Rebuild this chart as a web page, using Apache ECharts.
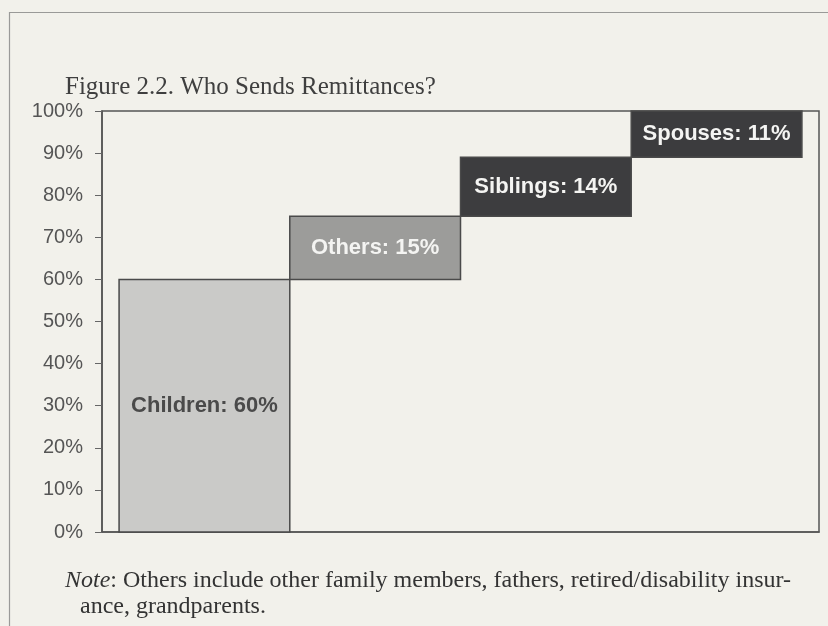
<!DOCTYPE html>
<html>
<head>
<meta charset="utf-8">
<script src="https://cdn.jsdelivr.net/npm/echarts@6/dist/echarts.min.js"></script>
<style>
html,body{margin:0;padding:0;background:#f2f1eb;}
#chart{width:828px;height:626px;}
</style>
</head>
<body>
<div id="chart"></div>
<script>
// Data
var categories = ['Children', 'Others', 'Siblings', 'Spouses'];
var shares = [60, 15, 14, 11];          // percent sending remittances
var bases = [0, 60, 75, 89];            // waterfall starting level (percent)
var yTicks = ['0%','10%','20%','30%','40%','50%','60%','70%','80%','90%','100%'];

var fills = ['#cacac8', '#9c9c9a', '#3d3d3f', '#3c3c3e'];
var labelColors = ['#4a4a4a', '#f4f4f2', '#f4f4f2', '#f4f4f2'];

var chart = echarts.init(document.getElementById('chart'), null, {renderer: 'canvas'});

var data = categories.map(function (c, i) { return [i, bases[i], shares[i]]; });

chart.setOption({
  backgroundColor: '#f2f1eb',
  animation: false,
  title: [
    {
      text: 'Figure 2.2. Who Sends Remittances?',
      left: 60, top: 70,
      textStyle: {fontFamily: 'Liberation Serif', fontSize: 25, fontWeight: 'normal', color: '#3f3f3f'}
    },
    {
      text: '{i|Note}: Others include other family members, fathers, retired/disability insur-\n{p|ance, grandparents.}',
      left: 60, top: 563,
      textStyle: {
        fontFamily: 'Liberation Serif', fontSize: 24, fontWeight: 'normal', color: '#333', lineHeight: 26,
        rich: {
          i: {fontFamily: 'Liberation Serif', fontStyle: 'italic', fontSize: 24, color: '#333', lineHeight: 26},
          p: {fontFamily: 'Liberation Serif', fontSize: 24, color: '#333', lineHeight: 26, padding: [0, 0, 0, 15]}
        }
      }
    }
  ],
  graphic: [{
    type: 'rect', silent: true,
    shape: {x: 9.5, y: 12.5, width: 900, height: 700},
    style: {fill: 'none', stroke: '#9a9a98', lineWidth: 1.2}
  }],
  grid: {
    left: 102, right: 9, top: 111, bottom: 94,
    show: true, borderColor: '#555', borderWidth: 1.5, backgroundColor: 'transparent'
  },
  xAxis: {
    type: 'value', min: -0.6, max: 3.6,
    axisLine: {show: true, onZero: false, lineStyle: {color: '#555', width: 1.5}},
    axisTick: {show: false}, axisLabel: {show: false}, splitLine: {show: false}
  },
  yAxis: {
    type: 'value', min: 0, max: 100, interval: 10,
    axisLine: {show: true, onZero: false, lineStyle: {color: '#555', width: 1.5}},
    axisTick: {show: true, length: 7, lineStyle: {color: '#666', width: 1}},
    splitLine: {show: false},
    axisLabel: {
      margin: 19, fontFamily: 'Liberation Sans', fontSize: 20, color: '#555',
      formatter: function (v) { return yTicks[Math.round(v / 10)]; }
    }
  },
  series: [{
    type: 'custom',
    data: data,
    encode: {x: 0, y: [1, 2]},
    renderItem: function (params, api) {
      var i = params.dataIndex;
      var x = api.value(0), b = api.value(1), v = api.value(2);
      var p0 = api.coord([x - 0.5, b + v]);
      var p1 = api.coord([x + 0.5, b]);
      return {
        type: 'rect',
        shape: {x: p0[0], y: p0[1], width: p1[0] - p0[0], height: p1[1] - p0[1]},
        style: {fill: fills[i], stroke: '#4a4a4a', lineWidth: 1.5},
        textContent: {
          style: {
            text: categories[i] + ': ' + shares[i] + '%',
            fill: labelColors[i],
            font: 'bold 22px "Liberation Sans"'
          }
        },
        textConfig: {position: 'inside'}
      };
    }
  }]
});
</script>
</body>
</html>
